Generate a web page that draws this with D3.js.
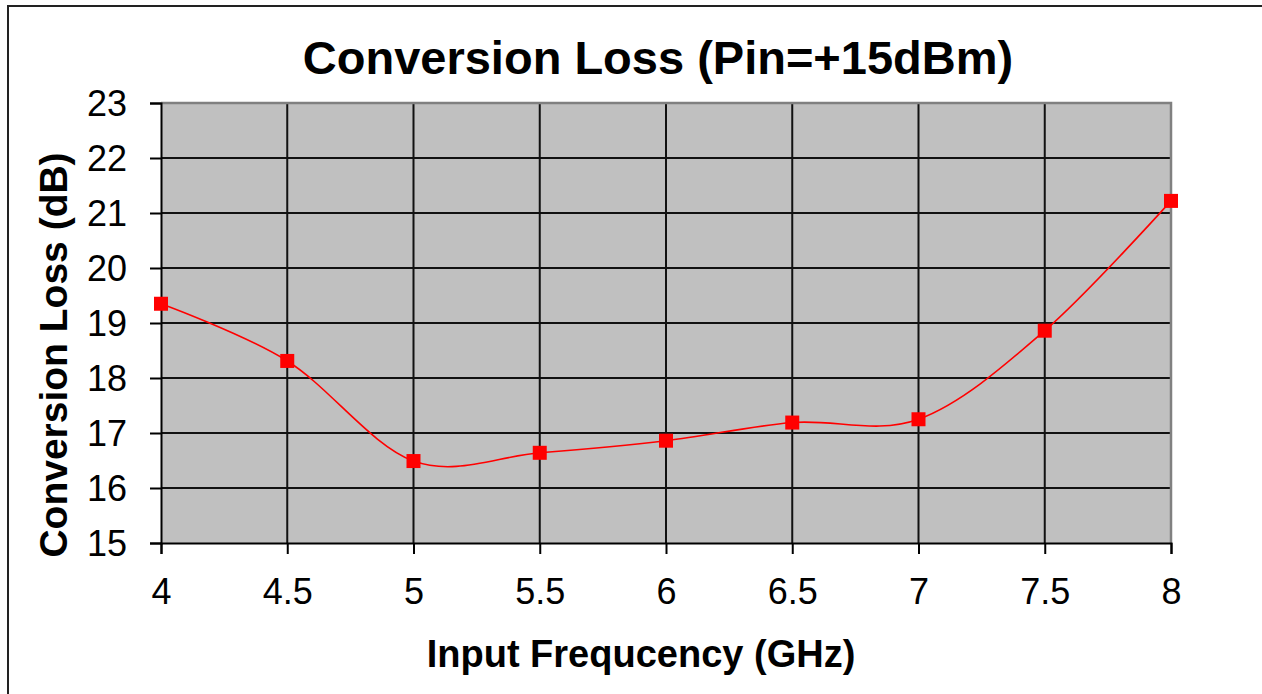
<!DOCTYPE html>
<html>
<head>
<meta charset="utf-8">
<script src="https://d3js.org/d3.v7.min.js"></script>
<style>
    html, body { margin: 0; padding: 0; background: #fff; }
    svg { display: block; font-family: "Liberation Sans", Arial, sans-serif; }
</style>
</head>
<body>
<div id="chart"></div>
<script>
    // values
    var freqs = [4, 4.5, 5, 5.5, 6, 6.5, 7, 7.5, 8];
    var loss = [19.35, 18.31, 16.49, 16.64, 16.86, 17.19, 17.25, 18.86, 21.22];
    var xTicks = [4, 4.5, 5, 5.5, 6, 6.5, 7, 7.5, 8];
    var yTicks = [15, 16, 17, 18, 19, 20, 21, 22, 23];

    var width = 1262, height = 694;
    var plot = {left: 161, right: 1171, top: 103, bottom: 543};

    var svg = d3.select("#chart").append("svg")
        .attr("width", width)
        .attr("height", height);

    // outer frame (only top and left edges visible)
    svg.append("path")
        .attr("d", "M8,694 V6 H1262")
        .attr("fill", "none")
        .attr("stroke", "#222")
        .attr("stroke-width", 2);

    var x = d3.scaleLinear().domain([4, 8]).range([plot.left, plot.right]);
    var y = d3.scaleLinear().domain([15, 23]).range([plot.bottom, plot.top]);

    svg.append("rect")
        .attr("x", plot.left).attr("y", plot.top)
        .attr("width", plot.right - plot.left)
        .attr("height", plot.bottom - plot.top)
        .attr("fill", "#c0c0c0");

    // grid
    svg.append("g").selectAll("line").data(yTicks.slice(1, -1)).join("line")
        .attr("x1", plot.left).attr("x2", plot.right)
        .attr("y1", function (d) { return y(d); })
        .attr("y2", function (d) { return y(d); })
        .attr("stroke", "#111").attr("stroke-width", 2);
    svg.append("g").selectAll("line").data(xTicks.slice(1, -1)).join("line")
        .attr("y1", plot.top).attr("y2", plot.bottom)
        .attr("x1", function (d) { return x(d); })
        .attr("x2", function (d) { return x(d); })
        .attr("stroke", "#111").attr("stroke-width", 2);

    // grey top/right border of the plot area
    svg.append("path")
        .attr("d", "M" + plot.left + "," + plot.top + " H" + plot.right + " V" + plot.bottom)
        .attr("fill", "none")
        .attr("stroke", "#808080")
        .attr("stroke-width", 2.5);

    // axes
    var xAxis = d3.axisBottom(x).tickValues(xTicks).tickSize(11)
        .tickFormat(d3.format("~g"));
    var yAxis = d3.axisLeft(y).tickValues(yTicks).tickSize(11)
        .tickFormat(d3.format("d"));

    var gx = svg.append("g")
        .attr("transform", "translate(0," + plot.bottom + ")")
        .call(xAxis);
    var gy = svg.append("g")
        .attr("transform", "translate(" + plot.left + ",0)")
        .call(yAxis);

    [gx, gy].forEach(function (g) {
        g.select(".domain").attr("stroke", "#000").attr("stroke-width", 2);
        g.selectAll(".tick line").attr("stroke", "#000").attr("stroke-width", 2);
        g.selectAll(".tick text")
            .attr("fill", "#000")
            .style("font-size", "36px")
            .style("font-family", "'Liberation Sans', Arial, sans-serif");
    });
    gx.selectAll(".tick text").attr("dy", "0.71em").attr("y", 35);
    gy.selectAll(".tick text").attr("dy", "0.36em").attr("x", -34);

    // series
    var pts = freqs.map(function (f, i) { return [f, loss[i]]; });

    svg.append("path")
        .datum(pts)
        .attr("d", d3.line()
            .x(function (d) { return x(d[0]); })
            .y(function (d) { return y(d[1]); })
            .curve(d3.curveCatmullRom.alpha(0)))
        .attr("fill", "none")
        .attr("stroke", "#ff0000")
        .attr("stroke-width", 1.6);

    var ms = 14;
    svg.append("g").selectAll("rect").data(pts).join("rect")
        .attr("x", function (d) { return x(d[0]) - ms / 2; })
        .attr("y", function (d) { return y(d[1]) - ms / 2; })
        .attr("width", ms).attr("height", ms)
        .attr("fill", "#ff0000");

    // titles
    svg.append("text")
        .attr("x", 658).attr("y", 74)
        .attr("text-anchor", "middle")
        .style("font-size", "47px").style("font-weight", "bold")
        .text("Conversion Loss (Pin=+15dBm)");

    svg.append("text")
        .attr("x", 641).attr("y", 667)
        .attr("text-anchor", "middle")
        .style("font-size", "38px").style("font-weight", "bold")
        .text("Input Frequcency (GHz)");

    svg.append("text")
        .attr("transform", "translate(67,355) rotate(-90)")
        .attr("text-anchor", "middle")
        .style("font-size", "39px").style("font-weight", "bold")
        .text("Conversion Loss (dB)");
</script>
</body>
</html>
